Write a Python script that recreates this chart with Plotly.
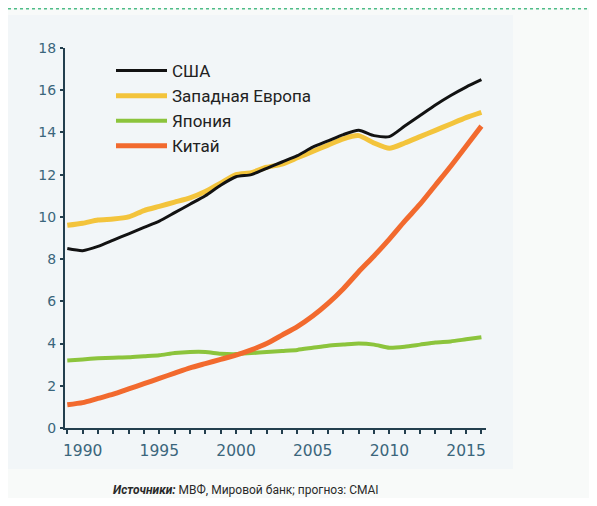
import plotly.graph_objects as go

years = list(range(1989, 2017))

usa = [8.5, 8.4, 8.6, 8.9, 9.2, 9.5, 9.8, 10.2, 10.6, 11.0, 11.5, 11.9, 12.0, 12.3,
       12.6, 12.9, 13.3, 13.6, 13.9, 14.1, 13.85, 13.8, 14.3, 14.8, 15.3, 15.75, 16.15, 16.5]
europe = [9.6, 9.7, 9.85, 9.9, 10.0, 10.3, 10.5, 10.7, 10.9, 11.2, 11.6, 12.0, 12.1, 12.35,
          12.5, 12.8, 13.1, 13.4, 13.7, 13.85, 13.5, 13.25, 13.5, 13.8, 14.1, 14.4, 14.7, 14.95]
japan = [3.2, 3.25, 3.3, 3.33, 3.35, 3.4, 3.45, 3.55, 3.6, 3.6, 3.52, 3.5, 3.55, 3.6,
         3.65, 3.7, 3.8, 3.9, 3.95, 4.0, 3.95, 3.8, 3.85, 3.95, 4.05, 4.1, 4.2, 4.3]
china = [1.1, 1.2, 1.4, 1.6, 1.85, 2.1, 2.35, 2.6, 2.85, 3.05, 3.25, 3.45, 3.7, 4.0,
         4.4, 4.8, 5.3, 5.9, 6.6, 7.4, 8.15, 8.95, 9.8, 10.6, 11.5, 12.4, 13.35, 14.3]

names = ["США", "Западная Европа", "Япония", "Китай"]
colors = ["#121212", "#f3c43c", "#8cc43c", "#f26a2e"]
widths = [3, 5, 4, 5]
series = [usa, europe, japan, china]
draw_order = [1, 2, 3, 0]  # black drawn on top

x_ticks = [1990, 1995, 2000, 2005, 2010, 2015]
y_ticks = [0, 2, 4, 6, 8, 10, 12, 14, 16, 18]

fig = go.Figure()
for i in draw_order:
    fig.add_trace(go.Scatter(
        x=years, y=series[i], mode="lines", name=names[i],
        line=dict(color=colors[i], width=widths[i], shape="spline", smoothing=0.6),
        legendrank=i + 1, hoverinfo="skip"))

# page body has an 8px margin, so figure coordinates = window coordinates - 8
L, R, T, B = 57, 478, 40, 420
W, H = 581, 490
pw, ph = R - L, B - T

def px(xp):
    return (xp - L) / pw

def py(yp):
    return (B - yp) / ph

axis_col = "#233f4e"
lab_col = "#3b667c"

fig.update_layout(
    width=W, height=H,
    margin=dict(l=L, r=W - R, t=T, b=H - B),
    paper_bgcolor="#f8faf9",
    plot_bgcolor="rgba(0,0,0,0)",
    showlegend=True,
    legend=dict(
        x=px(103), y=py(45), xanchor="left", yanchor="top",
        bgcolor="rgba(0,0,0,0)", borderwidth=0,
        font=dict(family="Roboto, sans-serif", size=17, color="#222222"),
        itemwidth=51, tracegroupgap=0, traceorder="normal",
    ),
    xaxis=dict(
        range=[1988.85, 2016.3], tickmode="array", tickvals=x_ticks,
        ticktext=[str(v) for v in x_ticks],
        showgrid=False, zeroline=False, showline=True, linecolor=axis_col, linewidth=2,
        ticks="outside", ticklen=4, tickwidth=1.5, tickcolor=axis_col,
        minor=dict(dtick=1, tick0=1990, ticks="outside", ticklen=4, tickwidth=1.5, tickcolor=axis_col, showgrid=False),
        tickfont=dict(family="DejaVu Sans", size=15.5, color=lab_col),
        ticklabelstandoff=3,
    ),
    yaxis=dict(
        range=[0, 18], tickmode="array", tickvals=y_ticks,
        ticktext=[str(v) for v in y_ticks],
        showgrid=False, zeroline=False, showline=True, linecolor=axis_col, linewidth=2,
        ticks="outside", ticklen=3, tickwidth=1.5, tickcolor=axis_col,
        tickfont=dict(family="DejaVu Sans", size=14, color=lab_col),
        ticklabelstandoff=1,
    ),
    shapes=[
        dict(type="rect", xref="paper", yref="paper", x0=px(0), x1=px(505), y0=py(461), y1=py(7),
             fillcolor="#f2f6f8", line=dict(width=0), layer="below"),
        dict(type="line", xref="paper", yref="paper", x0=px(0), x1=px(W), y0=py(0.8), y1=py(0.8),
             line=dict(color="#4fbd88", width=1.6, dash="dot"), layer="above"),
    ],
    annotations=[
        dict(xref="paper", yref="paper", x=px(103), y=py(482), xanchor="left", yanchor="middle",
             showarrow=False,
             text="<b><i>Источники:</i></b> МВФ, Мировой банк; прогноз: СМАI",
             font=dict(family="Roboto, sans-serif", size=12, color="#2a2a2a")),
    ],
)

fig.write_html("out.html")
